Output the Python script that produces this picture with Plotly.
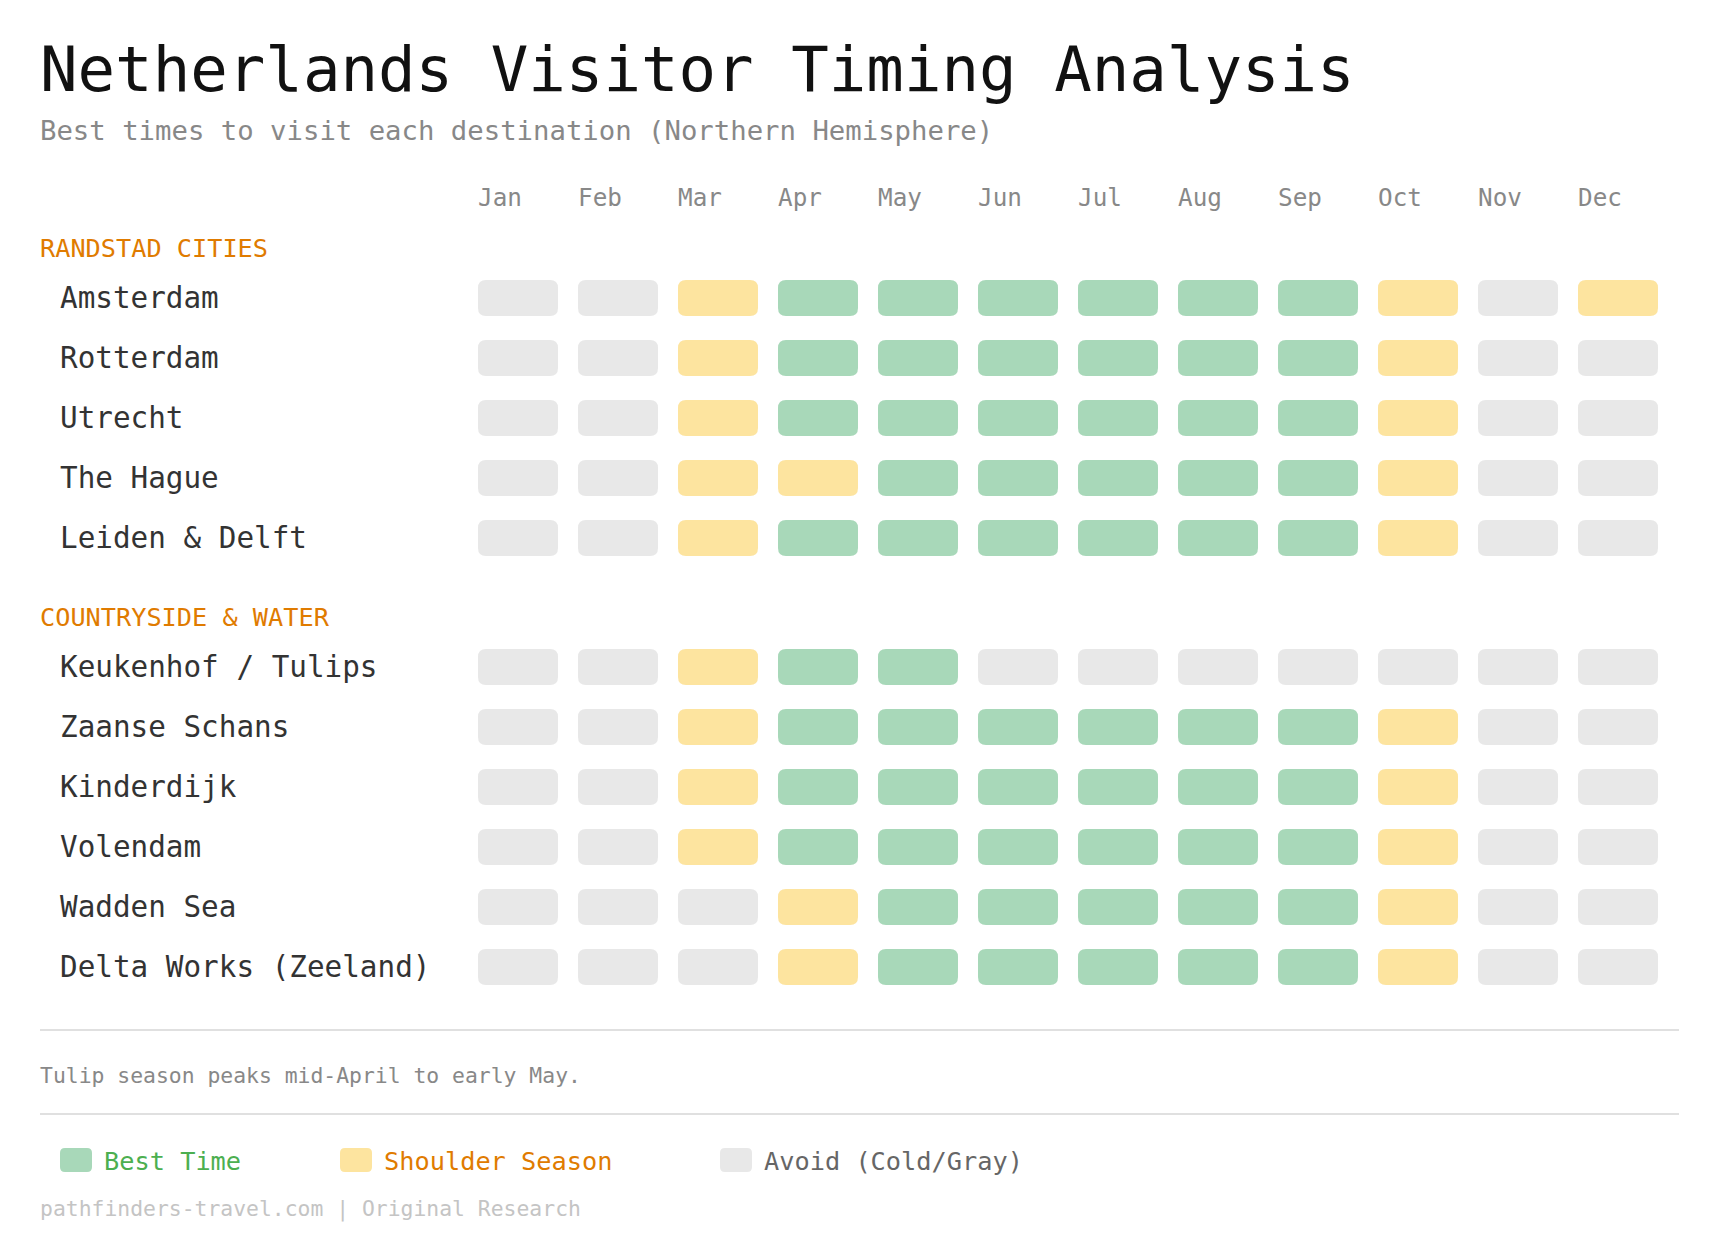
import plotly.graph_objects as go

# ---------------- data ----------------
months = ["Jan", "Feb", "Mar", "Apr", "May", "Jun", "Jul", "Aug", "Sep", "Oct", "Nov", "Dec"]

group_names = ["RANDSTAD CITIES", "COUNTRYSIDE & WATER"]

randstad_places = ["Amsterdam", "Rotterdam", "Utrecht", "The Hague", "Leiden & Delft"]
randstad_status = [
    ["A", "A", "S", "B", "B", "B", "B", "B", "B", "S", "A", "S"],
    ["A", "A", "S", "B", "B", "B", "B", "B", "B", "S", "A", "A"],
    ["A", "A", "S", "B", "B", "B", "B", "B", "B", "S", "A", "A"],
    ["A", "A", "S", "S", "B", "B", "B", "B", "B", "S", "A", "A"],
    ["A", "A", "S", "B", "B", "B", "B", "B", "B", "S", "A", "A"],
]

countryside_places = ["Keukenhof / Tulips", "Zaanse Schans", "Kinderdijk", "Volendam",
                      "Wadden Sea", "Delta Works (Zeeland)"]
countryside_status = [
    ["A", "A", "S", "B", "B", "A", "A", "A", "A", "A", "A", "A"],
    ["A", "A", "S", "B", "B", "B", "B", "B", "B", "S", "A", "A"],
    ["A", "A", "S", "B", "B", "B", "B", "B", "B", "S", "A", "A"],
    ["A", "A", "S", "B", "B", "B", "B", "B", "B", "S", "A", "A"],
    ["A", "A", "A", "S", "B", "B", "B", "B", "B", "S", "A", "A"],
    ["A", "A", "A", "S", "B", "B", "B", "B", "B", "S", "A", "A"],
]

status_labels = {"B": "Best Time", "S": "Shoulder Season", "A": "Avoid (Cold/Gray)"}
legend_order = ["B", "S", "A"]

title_text = "Netherlands Visitor Timing Analysis"
subtitle_text = "Best times to visit each destination (Northern Hemisphere)"
note_text = "Tulip season peaks mid-April to early May."
footer_text = "pathfinders-travel.com | Original Research"

# ---------------- style ----------------
W, H = 1718, 1254
FONT = "DejaVu Sans Mono, monospace"
cell_fill = {"B": "#a8d8b9", "S": "#fde49f", "A": "#e8e8e8"}
legend_text_color = {"B": "#4caf50", "S": "#e07b00", "A": "#666666"}
section_color = "#e07b00"
PAD = 2  # annotation inner padding compensation (px)

# x axis: month index; cell center of month 0 at pixel 518, 100 px per month
X0_PX, X_PITCH = 518, 100
x_range = [(0 - X0_PX) / X_PITCH, (W - X0_PX) / X_PITCH]
HALF_W = 0.4          # month units (80 px cells)
HALF_H = 18           # px
RX, RY = 0.08, 8      # corner radius (8px)

def px(p):
    return (p - PAD) / W

def rounded_path(x0, x1, y0, y1, rx, ry):
    return (f"M {x0+rx},{y0} L {x1-rx},{y0} Q {x1},{y0} {x1},{y0+ry} "
            f"L {x1},{y1-ry} Q {x1},{y1} {x1-rx},{y1} "
            f"L {x0+rx},{y1} Q {x0},{y1} {x0},{y1-ry} "
            f"L {x0},{y0+ry} Q {x0},{y0} {x0+rx},{y0} Z")

fig = go.Figure()
shapes = []
annotations = []

# layout of rows (pixel y axis)
first_header_y = 248
header_to_row = 50
row_pitch = 60
row_to_next_header = 79

groups = [(group_names[0], randstad_places, randstad_status),
          (group_names[1], countryside_places, countryside_status)]

hx, hy, htext = [], [], []
y = first_header_y
for gname, places, statuses in groups:
    annotations.append(dict(x=px(40), y=y, xref="paper", yref="y", text=gname,
                            showarrow=False, xanchor="left", yanchor="middle",
                            font=dict(family=FONT, size=25.25, color=section_color)))
    ry = y + header_to_row
    for place, st in zip(places, statuses):
        annotations.append(dict(x=px(60), y=ry, xref="paper", yref="y", text=place,
                                showarrow=False, xanchor="left", yanchor="middle",
                                font=dict(family=FONT, size=29.3, color="#333333")))
        for i, s in enumerate(st):
            shapes.append(dict(type="path", xref="x", yref="y",
                               path=rounded_path(i - HALF_W, i + HALF_W, ry - HALF_H, ry + HALF_H, RX, RY),
                               fillcolor=cell_fill[s], line=dict(width=0), layer="below"))
            hx.append(i)
            hy.append(ry)
            htext.append(f"{place} – {months[i]}: {status_labels[s]}")
        last_row = ry
        ry += row_pitch
    y = last_row + row_to_next_header

fig.add_trace(go.Scatter(x=hx, y=hy, mode="markers", text=htext, hoverinfo="text",
                         marker=dict(size=30, symbol="square", opacity=0),
                         showlegend=False))

# month headers (left aligned to the cell's left edge)
for i, m in enumerate(months):
    annotations.append(dict(x=i - HALF_W - PAD / X_PITCH, y=197, xref="x", yref="y", text=m,
                            showarrow=False, xanchor="left", yanchor="middle",
                            font=dict(family=FONT, size=24.3, color="#888888")))

# title / subtitle
annotations.append(dict(x=px(40), y=69, xref="paper", yref="y", text=title_text,
                        showarrow=False, xanchor="left", yanchor="middle",
                        font=dict(family=FONT, size=62.4, color="#111111")))
annotations.append(dict(x=px(40), y=130, xref="paper", yref="y", text=subtitle_text,
                        showarrow=False, xanchor="left", yanchor="middle",
                        font=dict(family=FONT, size=27.3, color="#888888")))

# separators
for ly in (1030, 1114):
    shapes.append(dict(type="line", xref="paper", yref="y", x0=40 / W, x1=1679 / W,
                       y0=ly, y1=ly, line=dict(color="#e0e0e0", width=2)))

# note
annotations.append(dict(x=px(40), y=1075, xref="paper", yref="y", text=note_text,
                        showarrow=False, xanchor="left", yanchor="middle",
                        font=dict(family=FONT, size=21.4, color="#888888")))

# legend
legend_x = [60, 340, 720]
for lx, key in zip(legend_x, legend_order):
    x0, x1 = lx / W, (lx + 32) / W
    shapes.append(dict(type="path", xref="paper", yref="y",
                       path=rounded_path(x0, x1, 1148, 1172, 5 / W, 5),
                       fillcolor=cell_fill[key], line=dict(width=0)))
    annotations.append(dict(x=px(lx + 44), y=1161, xref="paper", yref="y",
                            text=status_labels[key], showarrow=False,
                            xanchor="left", yanchor="middle",
                            font=dict(family=FONT, size=25.3, color=legend_text_color[key])))

# footer
annotations.append(dict(x=px(40), y=1209, xref="paper", yref="y", text=footer_text,
                        showarrow=False, xanchor="left", yanchor="middle",
                        font=dict(family=FONT, size=21.4, color="#c4c4c4")))

fig.update_layout(
    width=W, height=H,
    margin=dict(l=0, r=0, t=0, b=0),
    paper_bgcolor="white", plot_bgcolor="white",
    xaxis=dict(range=x_range, visible=False, fixedrange=True),
    yaxis=dict(range=[H, 0], visible=False, fixedrange=True),
    shapes=shapes, annotations=annotations,
    showlegend=False,
    font=dict(family=FONT),
)

fig.write_html("out.html")
